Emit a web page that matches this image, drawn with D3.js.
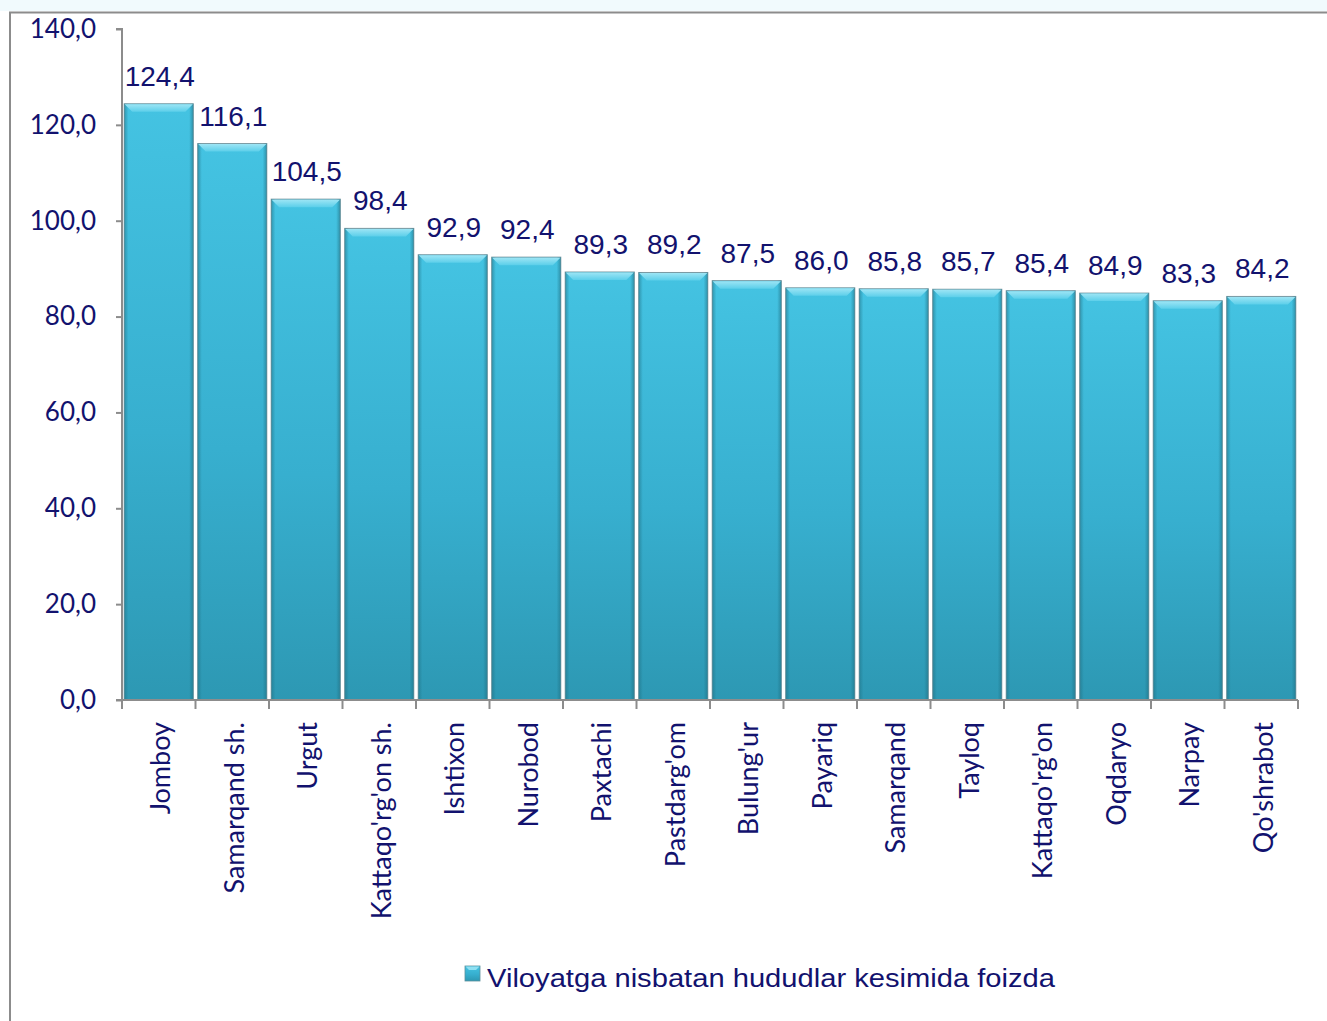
<!DOCTYPE html>
<html><head><meta charset="utf-8">
<script src="https://cdn.jsdelivr.net/npm/d3@7"></script>
<style>html,body{margin:0;padding:0;background:#fff;}svg{display:block;}</style>
</head><body>
<script>
const categories = ["Jomboy","Samarqand sh.","Urgut","Kattaqo'rg'on sh.","Ishtixon","Nurobod","Paxtachi","Pastdarg'om","Bulung'ur","Payariq","Samarqand","Tayloq","Kattaqo'rg'on","Oqdaryo","Narpay","Qo'shrabot"];
const values = [124.4,116.1,104.5,98.4,92.9,92.4,89.3,89.2,87.5,86.0,85.8,85.7,85.4,84.9,83.3,84.2];
const yTicks = [0,20,40,60,80,100,120,140];
const legendLabel = "Viloyatga nisbatan hududlar kesimida foizda";

const W = 1327, H = 1021;
const svg = d3.select("body").append("svg").attr("width", W).attr("height", H);
const navy = "#12126e";
const fmt = v => d3.format(".1f")(v).replace(".", ",");

svg.append("rect").attr("x",0).attr("y",0).attr("width",W).attr("height",11).attr("fill","#f1fafd");
svg.append("rect").attr("x",10).attr("y",12.5).attr("width",W+20).attr("height",H+20)
  .attr("fill","#fff").attr("stroke","#8c8c8c").attr("stroke-width",2);

const defs = svg.append("defs");
const g1 = defs.append("linearGradient").attr("id","barG").attr("x1",0).attr("y1",0).attr("x2",0).attr("y2",1);
g1.append("stop").attr("offset","0%").attr("stop-color","#44c3e2");
g1.append("stop").attr("offset","55%").attr("stop-color","#37afcf");
g1.append("stop").attr("offset","100%").attr("stop-color","#2d98b3");
const gs = defs.append("linearGradient").attr("id","sideG").attr("x1",0).attr("y1",0).attr("x2",1).attr("y2",0);
gs.append("stop").attr("offset","0%").attr("stop-color","#1f6f82").attr("stop-opacity",0.55);
gs.append("stop").attr("offset","6%").attr("stop-color","#1f6f82").attr("stop-opacity",0.0);
gs.append("stop").attr("offset","94%").attr("stop-color","#1f6f82").attr("stop-opacity",0.0);
gs.append("stop").attr("offset","100%").attr("stop-color","#1f6f82").attr("stop-opacity",0.6);
const gt = defs.append("linearGradient").attr("id","topG").attr("x1",0).attr("y1",0).attr("x2",0).attr("y2",1);
gt.append("stop").attr("offset","0%").attr("stop-color","#9de5f5");
gt.append("stop").attr("offset","100%").attr("stop-color","#5ccfea");

const x0 = 122, x1 = 1298, yBase = 700, yTop = 29;
const x = d3.scaleBand().domain(categories).range([x0, x1]).paddingInner(0.06).paddingOuter(0.03);
const y = d3.scaleLinear().domain([0,140]).range([yBase, yTop]);

const bars = svg.append("g").selectAll("g").data(categories).join("g");
bars.append("rect")
  .attr("x", d => x(d)).attr("y", (d,i) => y(values[i]))
  .attr("width", x.bandwidth()).attr("height", (d,i) => y(0) - y(values[i]))
  .attr("fill","url(#barG)").attr("stroke","#7b9aa3").attr("stroke-width",1);
bars.append("rect")
  .attr("x", d => x(d)).attr("y", (d,i) => y(values[i]))
  .attr("width", x.bandwidth()).attr("height", (d,i) => y(0) - y(values[i]))
  .attr("fill","url(#sideG)");
bars.append("path")
  .attr("d", (d,i) => {
    const xl = x(d), xr = x(d) + x.bandwidth(), yt = y(values[i]), b = 8;
    return `M${xl+0.5},${yt+0.5}L${xr-0.5},${yt+0.5}L${xr-b},${yt+b}L${xl+b},${yt+b}Z`;
  })
  .attr("fill","url(#topG)");

svg.append("g").selectAll("text").data(categories).join("text")
  .attr("x", d => x(d) + x.bandwidth()/2 + 1)
  .attr("y", (d,i) => y(values[i]) - 18)
  .attr("text-anchor","middle")
  .attr("font-family","'Liberation Sans', Arial, sans-serif")
  .attr("font-size", 28).attr("fill", navy)
  .text((d,i) => fmt(values[i]));

const yAxis = d3.axisLeft(y).tickValues(yTicks).tickSize(6).tickFormat(fmt);
const ya = svg.append("g").attr("transform",`translate(${x0},0)`).call(yAxis);
ya.select(".domain").attr("stroke","#8c8c8c").attr("stroke-width",2).attr("d",`M-6,${yTop}H0V${yBase}`);
ya.selectAll(".tick line").attr("stroke","#8c8c8c").attr("stroke-width",2);
ya.selectAll(".tick text").attr("x",-26).attr("fill",navy)
  .attr("font-family","Lato, 'Open Sans', sans-serif").attr("font-size",26);

const xa = svg.append("g");
xa.append("line").attr("x1",x0-6).attr("x2",x1).attr("y1",yBase).attr("y2",yBase)
  .attr("stroke","#8c8c8c").attr("stroke-width",2);
const bounds = categories.map(d => x(d) - x.step()*x.paddingInner()/2).concat([x1]);
bounds[0] = x0;
xa.selectAll("line.t").data(bounds).join("line").attr("class","t")
  .attr("x1", d => d).attr("x2", d => d).attr("y1", yBase).attr("y2", yBase + 9)
  .attr("stroke","#8c8c8c").attr("stroke-width",2);
xa.selectAll("text.xl").data(categories).join("text").attr("class","xl")
  .attr("transform", d => `translate(${x(d) + x.bandwidth()/2 + 1},${yBase + 22}) rotate(-90)`)
  .attr("text-anchor","end").attr("dominant-baseline","central")
  .attr("font-family","Lato, 'Open Sans', sans-serif").attr("font-size",27).attr("fill",navy)
  .text(d => d);

const lg = svg.append("g").attr("transform","translate(465,966)");
lg.append("rect").attr("width",15).attr("height",15).attr("fill","url(#barG)").attr("stroke","#5a8f9c").attr("stroke-width",0.8);
lg.append("path").attr("d","M0.5,0.5L14.5,0.5L11,4L4,4Z").attr("fill","#8fe0f2");
lg.append("text").attr("x",22).attr("y",21)
  .attr("font-family","'Liberation Sans', Arial, sans-serif").attr("font-size",25).attr("fill",navy)
  .attr("textLength",568).attr("lengthAdjust","spacingAndGlyphs")
  .text(legendLabel);
</script>
</body></html>
